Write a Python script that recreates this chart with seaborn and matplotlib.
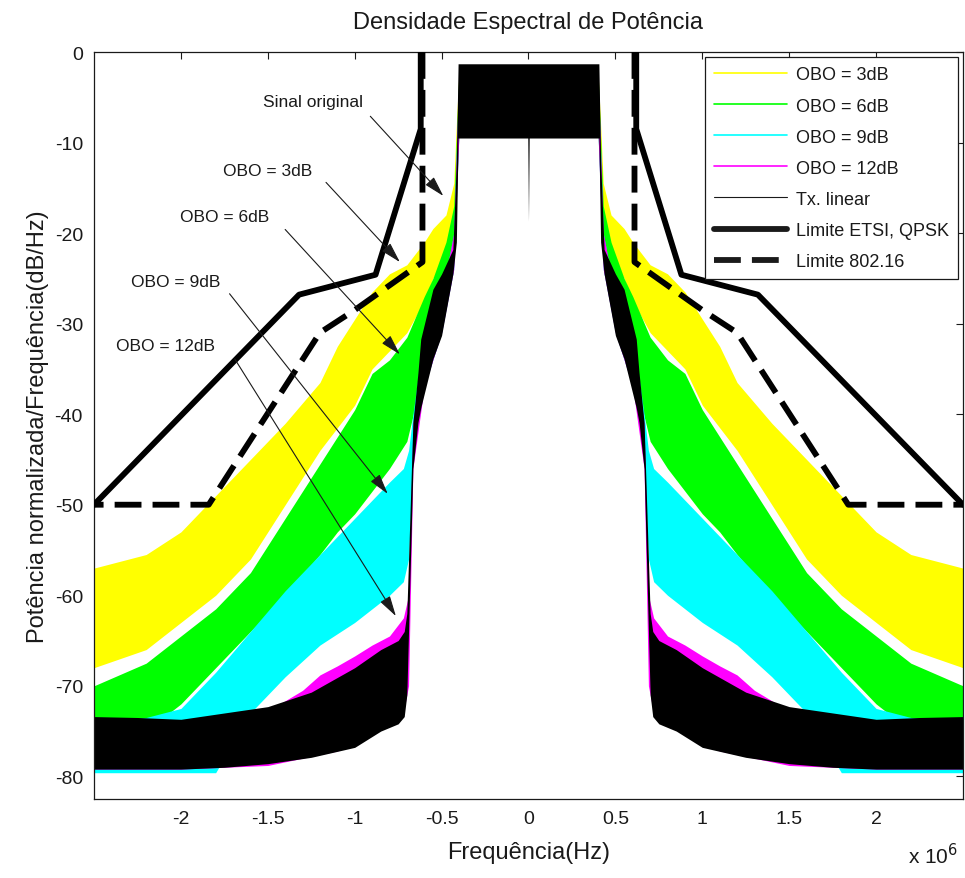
import numpy as np
import pandas as pd
import matplotlib
matplotlib.use("Agg")
import matplotlib.pyplot as plt
from matplotlib.lines import Line2D
from matplotlib.ticker import FuncFormatter
import seaborn as sns

# Spectra (positive side, MHz / dB); plot is mirrored
# Tx. linear (black)
f_tx = [0.0, 0.004, 0.405, 0.415, 0.435, 0.50, 0.55, 0.62, 0.636, 0.665, 0.70, 0.715,
        0.75, 0.85, 1.0, 1.25, 1.5, 1.75, 2.0, 2.25, 2.5]
tx_top = [-1.3, -1.3, -1.3, -12, -21.8, -24.5, -26.2, -31.7, -35.4, -40.9, -62, -64,
          -65, -66, -68, -70.7, -72.3, -73, -73.7, -73.5, -73.4]
tx_bot = [-18.7, -9.5, -9.5, -21, -24.5, -31.3, -33.9, -39.3, -40.9, -46, -71, -73.4,
          -74.2, -75, -76.8, -77.9, -78.6, -79, -79.2, -79.2, -79.2]

# OBO = 3dB (yellow)
f_3 = [0.40, 0.415, 0.43, 0.475, 0.55, 0.6, 0.7, 0.8, 0.9, 1.0, 1.1, 1.2, 1.4, 1.6,
       1.8, 2.0, 2.2, 2.5]
obo3_top = [-2, -8, -14.5, -18, -19.5, -21, -23.5, -24.5, -26.5, -29.5, -32.5, -36.5,
            -41, -45, -49, -53, -55.5, -57]
obo3_bot = [-9, -14, -19, -22.5, -25, -27.5, -31, -33, -35, -39, -41.5, -44, -50,
            -56, -60, -63, -66, -68]

# OBO = 6dB (green)
f_6 = [0.40, 0.43, 0.475, 0.55, 0.6, 0.7, 0.8, 0.9, 1.0, 1.1, 1.2, 1.4, 1.6, 1.8,
       2.0, 2.2, 2.5]
obo6_top = [-2, -17, -21, -25, -27, -31.5, -34, -35.5, -39.5, -42.5, -45.5, -51.5,
            -57.5, -61.5, -64.5, -67.5, -70]
obo6_bot = [-9, -22, -26, -31, -35, -43, -46, -48.5, -51, -53, -55.5, -60, -64, -68,
            -72, -75, -76]

# OBO = 9dB (cyan)
f_9 = [0.40, 0.43, 0.5, 0.6, 0.665, 0.69, 0.72, 0.8, 0.9, 1.0, 1.2, 1.4, 1.6, 1.8,
       2.0, 2.2, 2.5]
obo9_top = [-2, -20, -27, -31, -40, -44, -46, -47.5, -49.5, -51.5, -55.5, -59.5, -64,
            -68.5, -72.5, -73.5, -74]
obo9_bot = [-9, -24, -31, -37, -45, -56, -58.5, -60, -61.5, -63, -65.5, -69, -73,
            -79.6, -79.6, -79.6, -79.6]

# OBO = 12dB (magenta)
f_12 = [0.40, 0.43, 0.5, 0.6, 0.665, 0.69, 0.72, 0.8, 0.9, 1.0, 1.1, 1.2, 1.3, 1.5,
        2.0, 2.5]
obo12_top = [-2, -20, -27, -31.5, -41, -60, -62.5, -64.5, -65.5, -66.7, -67.8, -68.8,
             -70.5, -72.8, -73.8, -73.8]
obo12_bot = [-9, -24, -31, -37, -46, -70, -73, -74, -75, -76.5, -77.2, -77.6, -78,
             -78.8, -79.2, -79.2]

# spectral masks (positive side)
etsi_f = [0.62, 0.62, 0.88, 1.32, 2.5]
etsi_db = [0, -8.5, -24.6, -26.8, -50]
ieee_f = [0.61, 0.61, 1.0, 1.2, 1.84, 2.5]
ieee_db = [0, -23.2, -28.5, -31, -50, -50]

series = [
    ("OBO = 3dB", f_3, obo3_top, obo3_bot, "#ffff00"),
    ("OBO = 6dB", f_6, obo6_top, obo6_bot, "#00ff00"),
    ("OBO = 9dB", f_9, obo9_top, obo9_bot, "#00ffff"),
    ("OBO = 12dB", f_12, obo12_top, obo12_bot, "#ff00ff"),
    ("Tx. linear", f_tx, tx_top, tx_bot, "#000000"),
]


def mirror(f, v):
    f = np.asarray(f) * 1e6
    v = np.asarray(v, dtype=float)
    return np.concatenate([-f[::-1], f]), np.concatenate([v[::-1], v])


sns.set_theme(style="white")
plt.rcParams["font.family"] = ["Liberation Sans", "DejaVu Sans"]
plt.rcParams["axes.unicode_minus"] = False
plt.rcParams["text.color"] = "k"
plt.rcParams["axes.labelcolor"] = "k"

fig = plt.figure(figsize=(9.65, 8.79), dpi=100)
ax = fig.add_axes([0.0974, 0.0899, 0.9005, 0.8498])

for name, f, top, bot, col in series:
    x, t = mirror(f, top)
    _, b = mirror(f, bot)
    ax.fill_between(x, b, t, color=col, lw=0, zorder=2)

# masks drawn as two halves each
rows = []
for side in (-1, 1):
    for fq, d in zip(etsi_f, etsi_db):
        rows.append(("etsi", side, side * fq * 1e6, d))
    for fq, d in zip(ieee_f, ieee_db):
        rows.append(("ieee", side, side * fq * 1e6, d))
masks = pd.DataFrame(rows, columns=["mask", "side", "freq", "db"])

sns.lineplot(data=masks[masks["mask"] == "etsi"], x="freq", y="db", units="side",
             estimator=None, sort=False, color="#000000", lw=4.2, ax=ax, zorder=4)
sns.lineplot(data=masks[masks["mask"] == "ieee"], x="freq", y="db", units="side",
             estimator=None, sort=False, color="#000000", lw=4.2, ax=ax, zorder=4,
             linestyle=(0, (4.6, 1.9)))

# annotations
notes = [
    ("Sinal original", (-1.24, -5.5), (-0.91, -7.1), (-0.49, -15.9)),
    ("OBO = 3dB", (-1.50, -13.1), (-1.165, -14.4), (-0.74, -23.2)),
    ("OBO = 6dB", (-1.75, -18.2), (-1.40, -19.6), (-0.74, -33.4)),
    ("OBO = 9dB", (-2.03, -25.4), (-1.72, -26.7), (-0.81, -48.8)),
    ("OBO = 12dB", (-2.09, -32.4), (-1.69, -33.9), (-0.763, -62.3)),
]
for txt, pos, tail, head in notes:
    ax.text(pos[0] * 1e6, pos[1], txt, ha="center", va="center", fontsize=12.5,
            zorder=6)
    ax.annotate("", xy=(head[0] * 1e6, head[1]), xytext=(tail[0] * 1e6, tail[1]),
                arrowprops=dict(arrowstyle="-|>,head_length=0.9,head_width=0.25",
                                color="k", lw=0.8, mutation_scale=14,
                                shrinkA=0, shrinkB=0),
                zorder=6)

ax.set_xlim(-2.5e6, 2.5e6)
ax.set_ylim(-82.5, 0)
ax.set_xticks(np.arange(-2, 2.01, 0.5) * 1e6)
ax.set_yticks(np.arange(-80, 1, 10))
ax.xaxis.set_major_formatter(FuncFormatter(lambda v, p: "%g" % (v / 1e6)))
ax.tick_params(direction="in", length=5, width=0.8, top=True, right=True,
               labelsize=14, colors="k", pad=8)
for s in ax.spines.values():
    s.set_color("k")
    s.set_linewidth(0.9)

ax.set_title("Densidade Espectral de Potência", fontsize=17, pad=17, color="k")
ax.set_xlabel("Frequência(Hz)", fontsize=17, labelpad=10)
ax.set_ylabel("Potência normalizada/Frequência(dB/Hz)", fontsize=17, labelpad=4)
fig.text(0.967, 0.012, r"x 10$^6$", fontsize=15, ha="center", va="bottom")

handles = [Line2D([], [], color=c, lw=1.2) for _, _, _, _, c in series[:4]]
handles.append(Line2D([], [], color="k", lw=0.8))
handles.append(Line2D([], [], color="k", lw=4.2))
handles.append(Line2D([], [], color="k", lw=4.2, linestyle=(0, (4.6, 1.9))))
labels = [s[0] for s in series] + ["Limite ETSI, QPSK", "Limite 802.16"]
leg = ax.legend(handles, labels, loc="upper right", fontsize=13, frameon=True,
                fancybox=False, edgecolor="k", framealpha=1, handlelength=4,
                handletextpad=0.5, labelspacing=0.78, borderaxespad=0.3,
                borderpad=0.5)
leg.get_frame().set_linewidth(0.9)
leg.set_zorder(10)

fig.savefig("out.png", dpi=100, facecolor="white")
